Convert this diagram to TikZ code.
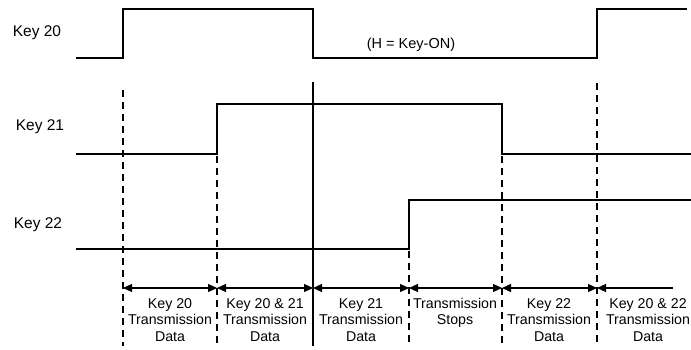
\documentclass[tikz,border=0pt]{standalone}
\usepackage{fontspec}
\setmainfont{Liberation Sans}
\usetikzlibrary{arrows.meta}
\begin{document}
\begin{tikzpicture}[x=1pt,y=-1pt,
  wave/.style={line width=1.4pt,line join=miter},
  guide/.style={line width=1.2pt,dash pattern=on 7pt off 5pt},
  solidguide/.style={line width=1.2pt},
  span/.style={line width=1.1pt},
  lab/.style={font=\fontsize{15.5}{17}\selectfont,inner sep=0pt},
  hlab/.style={font=\fontsize{14.5}{17}\selectfont,inner sep=0pt},
  seg/.style={font=\fontsize{14.2}{16.5}\selectfont,align=center,inner sep=0pt,anchor=north}]
\useasboundingbox (0,0) rectangle (691,349);
% labels
\node[lab] (k20) at (37,33) {Key 20};
\node[lab] (k21) at (40,127) {Key 21};
\node[lab] (k22) at (38,225) {Key 22};
\node[hlab] (hk) at (411,45) {(H = Key-ON)};
% waveforms
\coordinate (w20s) at (76,58);
\coordinate (w20e) at (687,9);
\draw[wave] (w20s) -- (123,58) -- (123,9) -- (313,9) -- (313,58) -- (597,58) -- (597,9) -- (w20e);
\coordinate (w21s) at (76,154);
\coordinate (w21e) at (691,154);
\draw[wave] (w21s) -- (217,154) -- (217,104) -- (502,104) -- (502,154) -- (w21e);
\coordinate (w22s) at (76,249);
\coordinate (w22e) at (691,200);
\draw[wave] (w22s) -- (409,249) -- (409,200) -- (w22e);
% guide lines
\coordinate (ga1) at (123,90);  \coordinate (ga2) at (123,346);
\coordinate (gb1) at (217,156); \coordinate (gb2) at (217,346);
\coordinate (gc1) at (313,82);  \coordinate (gc2) at (313,346);
\coordinate (gd1) at (409,251); \coordinate (gd2) at (409,346);
\coordinate (ge1) at (502,156); \coordinate (ge2) at (502,346);
\coordinate (gf1) at (597,83);  \coordinate (gf2) at (597,346);
\draw[guide] (ga1) -- (ga2);
\draw[guide] (gb1) -- (gb2);
\draw[solidguide] (gc1) -- (gc2);
\draw[guide] (gd1) -- (gd2);
\draw[guide] (ge1) -- (ge2);
\draw[guide] (gf1) -- (gf2);
% spans
\coordinate (sa) at (123,288); \coordinate (sb) at (217,288);
\coordinate (sc) at (313,288); \coordinate (sd) at (409,288);
\coordinate (se) at (502,288); \coordinate (sf) at (597,288);
\coordinate (sg) at (673,288);
\tikzset{both/.style={span,{Triangle[length=9pt,width=8pt]}-{Triangle[length=9pt,width=8pt]}}}
\draw[both] (sa) -- (sb);
\draw[both] (sb) -- (sc);
\draw[both] (sc) -- (sd);
\draw[both] (sd) -- (se);
\draw[both] (se) -- (sf);
\draw[span,{Triangle[length=9pt,width=8pt]}-] (sf) -- (sg);
% segment labels
\node[seg] (t1) at (170,298) {Key 20\\Transmission\\Data};
\node[seg] (t2) at (265,298) {Key 20 \& 21\\Transmission\\Data};
\node[seg] (t3) at (361,298) {Key 21\\Transmission\\Data};
\node[seg] (t4) at (455,298) {Transmission\\Stops};
\node[seg] (t5) at (549,298) {Key 22\\Transmission\\Data};
\node[seg] (t6) at (648,298) {Key 20 \& 22\\Transmission\\Data};
\end{tikzpicture}
\end{document}
